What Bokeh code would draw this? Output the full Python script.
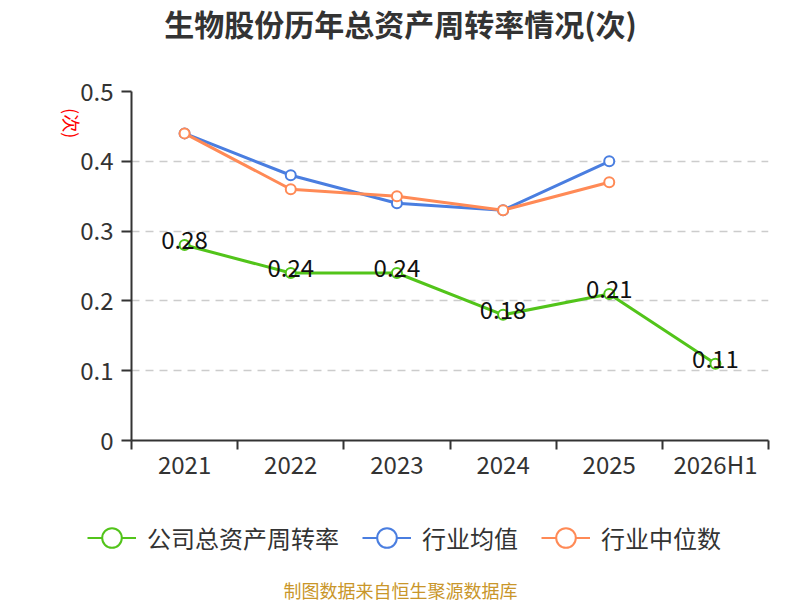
import numpy as np
from bokeh.plotting import figure
from bokeh.layouts import column
from bokeh.models import (Range1d, FixedTicker, Legend, LegendItem, LinearAxis,
                          ColumnDataSource)
from bokeh.core.properties import value
from bokeh.embed import file_html
from bokeh.resources import INLINE

categories = ["2021", "2022", "2023", "2024", "2025", "2026H1"]
company = [0.28, 0.24, 0.24, 0.18, 0.21, 0.11]
industry_avg = [0.44, 0.38, 0.34, 0.33, 0.40]
industry_median = [0.44, 0.36, 0.35, 0.33, 0.37]
y_ticks = [0, 0.1, 0.2, 0.3, 0.4, 0.5]
y_tick_labels = ["0", "0.1", "0.2", "0.3", "0.4", "0.5"]

title_text = "生物股份历年总资产周转率情况(次)"
unit_text = "(次)"
unit_pos = 0.433
source_text = "制图数据来自恒生聚源数据库"
names = ["公司总资产周转率", "行业均值", "行业中位数"]
colors = ["#52c41a", "#4a7ee0", "#ff8a56"]

FONT = "Noto Sans CJK SC"
W = 800
H_TOP, H_MAIN, H_BOT = 45, 440, 115


def bare(h, xr, yr):
    f = figure(width=W, height=h, output_backend="svg", toolbar_location=None,
               x_range=xr, y_range=yr, x_axis_type=None, y_axis_type=None,
               title=None, min_border=0)
    f.frame_align = False
    f.outline_line_color = None
    f.xgrid.visible = False
    f.ygrid.visible = False
    return f


# ---- title strip
p0 = bare(H_TOP, Range1d(0, W), Range1d(H_TOP, 0))
p0.text(x=[W / 2], y=[22], text=[title_text], text_align="center", text_baseline="middle",
        text_font=value(FONT), text_font_size="30px", text_font_style="bold",
        text_color="#333333")

# ---- main chart
p = figure(width=W, height=H_MAIN, output_backend="svg", toolbar_location=None,
           x_range=Range1d(0, len(categories)), y_range=Range1d(0, 0.5), title=None,
           min_border_left=131, min_border_right=32, min_border_top=46,
           min_border_bottom=45)
p.frame_align = False
p.outline_line_color = None

xc = np.arange(len(categories)) + 0.5

p.xaxis.ticker = FixedTicker(ticks=list(xc), minor_ticks=list(range(len(categories) + 1)))
p.xaxis.major_label_overrides = {float(x): c for x, c in zip(xc, categories)}
p.xaxis.major_tick_out = 0
p.xaxis.major_tick_in = 0
p.xaxis.minor_tick_out = 9
p.xaxis.minor_tick_in = 0
p.xaxis.minor_tick_line_color = "#333333"
p.xaxis.minor_tick_line_width = 2
p.xaxis.major_label_standoff = -4

p.yaxis.ticker = FixedTicker(ticks=y_ticks)
p.yaxis.major_label_overrides = {float(t): l for t, l in zip(y_ticks, y_tick_labels)}
p.yaxis.major_tick_out = 10
p.yaxis.major_tick_in = 0
p.yaxis.minor_tick_out = 0
p.yaxis.minor_tick_in = 0
p.yaxis.major_tick_line_width = 2
p.yaxis.major_tick_line_color = "#333333"
p.yaxis.major_label_standoff = 8

for ax in (p.xaxis, p.yaxis):
    ax.axis_line_color = "#333333"
    ax.axis_line_width = 2
    ax.major_label_text_font = FONT
    ax.major_label_text_font_size = "24px"
    ax.major_label_text_color = "#333333"

unit_axis = LinearAxis(ticker=FixedTicker(ticks=[unit_pos]),
                       major_label_overrides={unit_pos: unit_text},
                       major_label_orientation=-np.pi / 2,
                       axis_line_color=None, major_tick_line_color=None,
                       minor_tick_line_color=None, major_label_standoff=0,
                       major_label_text_font=FONT, major_label_text_font_size="18px",
                       major_label_text_color="#ff0000")
p.add_layout(unit_axis, "left")

p.xgrid.grid_line_color = None
p.ygrid.ticker = FixedTicker(ticks=y_ticks[1:])
p.ygrid.grid_line_color = "#cccccc"
p.ygrid.grid_line_width = 1.5
p.ygrid.grid_line_dash = "8 6"

series = [company, industry_avg, industry_median]
for i in [1, 2, 0]:
    vals = series[i]
    src = ColumnDataSource(dict(x=xc[:len(vals)], y=vals))
    p.line("x", "y", source=src, line_color=colors[i], line_width=3)
    p.scatter("x", "y", source=src, size=10, fill_color="white",
              line_color=colors[i], line_width=2)

lsrc = ColumnDataSource(dict(x=xc, y=company, t=["%.2f" % v for v in company]))
p.text("x", "y", text="t", source=lsrc, text_align="center", text_baseline="middle",
       text_font=value(FONT), text_font_size="24px", text_color="#111111", y_offset=-5)

# ---- legend + source strip (series glyphs here lie outside its ranges; only the legend shows them)
p2 = bare(H_BOT, Range1d(1000, 1000 + W), Range1d(H_BOT, 0))
items = []
for i in range(3):
    vals = series[i]
    lr = p2.line(xc[:len(vals)], vals, line_color=colors[i], line_width=2)
    sr = p2.scatter(xc[:len(vals)], vals, fill_color="white", line_color=colors[i],
                    line_width=2)
    items.append(LegendItem(label=names[i], renderers=[lr, sr], index=0))
legend = Legend(items=items, orientation="horizontal", location=(87, 38),
                glyph_width=49, glyph_height=49, label_standoff=11, spacing=23,
                padding=0, margin=0, border_line_color=None, background_fill_alpha=0,
                label_text_font=FONT, label_text_font_size="24px",
                label_text_color="#333333")
p2.add_layout(legend, "center")
p2.text(x=[1000 + W / 2], y=[104], text=[source_text], text_align="center",
        text_baseline="middle", text_font=value(FONT), text_font_size="18px",
        text_color="#c9962a")

layout = column(p0, p, p2, spacing=0)
open("out.html", "w").write(file_html(layout, INLINE))
